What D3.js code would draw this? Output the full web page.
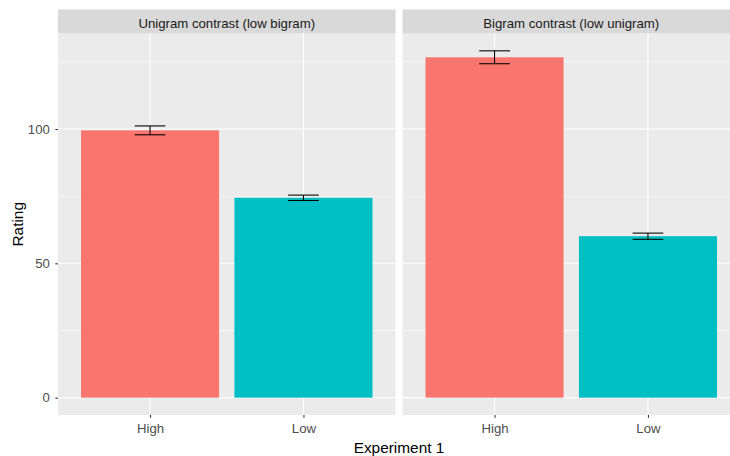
<!DOCTYPE html>
<html><head><meta charset="utf-8">
<script src="https://cdn.jsdelivr.net/npm/d3@7"></script>
<style>body{margin:0;background:#fff}svg{display:block;font-family:"Liberation Sans",Arial,sans-serif}</style>
</head><body>
<svg id="chart" width="730" height="456"></svg>
<script>
const panels = ["Unigram contrast (low bigram)", "Bigram contrast (low unigram)"];
const categories = ["High", "Low"];
const meanValues = [[99.5, 74.4], [126.7, 60.1]];
const seValues = [[1.65, 1.0], [2.4, 1.15]];
const yTicks = [0, 50, 100];
const yMinor = [25, 75, 125];
const colors = ["#F8766D", "#00BFC4"];
const xTitle = "Experiment 1";
const yTitle = "Rating";

(function () {
const svg = d3.select("#chart");
const mLeft = 58, panelW = 337.5, gap = 7, mTop = 9.5, stripH = 24, mBottom = 415;
const smallFont = "13.2px", titleFont = "15.4px";
const flatMean = meanValues.flat(), flatSe = seValues.flat();
const maxY = d3.max(flatMean.map((v, i) => v + flatSe[i]));
const pad = maxY * 0.05;
const y = d3.scaleLinear().domain([-pad, maxY + pad]).range([mBottom, mTop + stripH]);

panels.forEach((p, pi) => {
  const x0 = mLeft + pi * (panelW + gap);
  const xc = d3.scalePoint().domain(categories).range([x0, x0 + panelW]).padding(0.6);
  const step = xc.step();
  const g = svg.append("g");
  g.append("rect").attr("x", x0).attr("y", mTop + stripH).attr("width", panelW).attr("height", mBottom - mTop - stripH).attr("fill", "#EBEBEB");
  g.append("rect").attr("x", x0).attr("y", mTop).attr("width", panelW).attr("height", stripH).attr("fill", "#D9D9D9");
  g.append("text").attr("x", x0 + panelW / 2).attr("y", mTop + 18.8).attr("text-anchor", "middle")
    .attr("font-size", smallFont).attr("fill", "#1A1A1A").text(p);
  yMinor.forEach(t => g.append("line").attr("x1", x0).attr("x2", x0 + panelW).attr("y1", y(t)).attr("y2", y(t)).attr("stroke", "#fff").attr("stroke-width", 0.55));
  yTicks.forEach(t => g.append("line").attr("x1", x0).attr("x2", x0 + panelW).attr("y1", y(t)).attr("y2", y(t)).attr("stroke", "#fff").attr("stroke-width", 1.07));
  categories.forEach(c => g.append("line").attr("x1", xc(c)).attr("x2", xc(c)).attr("y1", mTop + stripH).attr("y2", mBottom).attr("stroke", "#fff").attr("stroke-width", 1.07));
  categories.forEach((c, ci) => {
    const v = meanValues[pi][ci], se = seValues[pi][ci];
    const bw = step * 0.9;
    g.append("rect").attr("x", xc(c) - bw / 2).attr("width", bw).attr("y", y(v)).attr("height", y(0) - y(v)).attr("fill", colors[ci]);
    const ew = step * 0.2;
    const eg = g.append("g").attr("stroke", "#000").attr("stroke-width", 1.07).attr("fill", "none");
    eg.append("line").attr("x1", xc(c) - ew / 2).attr("x2", xc(c) + ew / 2).attr("y1", y(v + se)).attr("y2", y(v + se));
    eg.append("line").attr("x1", xc(c) - ew / 2).attr("x2", xc(c) + ew / 2).attr("y1", y(v - se)).attr("y2", y(v - se));
    eg.append("line").attr("x1", xc(c)).attr("x2", xc(c)).attr("y1", y(v + se)).attr("y2", y(v - se));
  });
  const xa = g.append("g").attr("transform", `translate(0,${mBottom})`).call(d3.axisBottom(xc).tickSize(2.7).tickPadding(6));
  xa.select(".domain").remove();
  xa.selectAll("line").attr("stroke", "#333333").attr("stroke-width", 1.07);
  xa.selectAll("text").attr("fill", "#4D4D4D").attr("font-size", smallFont).attr("font-family", "Liberation Sans, Arial, sans-serif");
});

const ya = svg.append("g").attr("transform", `translate(${mLeft},0)`).call(d3.axisLeft(y).tickValues(yTicks).tickSize(2.7).tickPadding(5.5));
ya.select(".domain").remove();
ya.selectAll("line").attr("stroke", "#333333").attr("stroke-width", 1.07);
ya.selectAll("text").attr("fill", "#4D4D4D").attr("font-size", smallFont).attr("font-family", "Liberation Sans, Arial, sans-serif");

svg.append("text").attr("x", mLeft + (2 * panelW + gap) / 2).attr("y", 453).attr("text-anchor", "middle")
  .attr("font-size", titleFont).attr("fill", "#000").text(xTitle);
svg.append("text").attr("transform", `translate(23,${(mTop + stripH + mBottom) / 2}) rotate(-90)`).attr("text-anchor", "middle")
  .attr("font-size", titleFont).attr("fill", "#000").text(yTitle);
})();
</script>
</body></html>
